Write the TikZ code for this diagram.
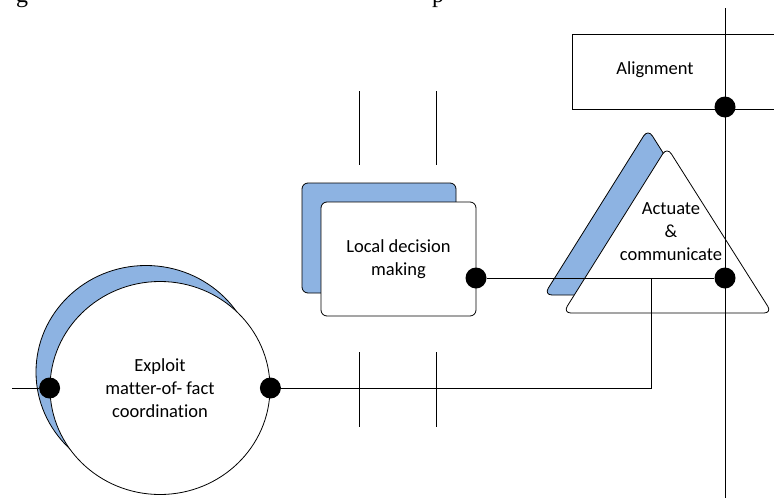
\documentclass[tikz,border=0pt]{standalone}
\usepackage{fontspec}
\setmainfont{Carlito}[Ligatures=CommonOff]
\newfontfamily\captionserif{Liberation Serif}
\usetikzlibrary{shapes.geometric}
\definecolor{shadowblue}{RGB}{141,179,226}

\begin{document}
\begin{tikzpicture}[x=1pt, y=-1pt]
    \useasboundingbox (0,0) rectangle (774,498);

    % Estilo para las sombras azules
    \tikzstyle{shadow_style} = [draw=black, fill=shadowblue, line width=0.8pt]

    % Estilo para las figuras blancas
    \tikzstyle{front_style} = [draw=black, fill=white, line width=0.8pt]

    % Estilo para los puntos de conexion
    \tikzstyle{dot_style} = [circle, fill=black, inner sep=0pt, minimum size=21pt]

    % Estilo para las lineas
    \tikzstyle{edge_style} = [-, line width=1pt, draw=black]

    % Estilo para los textos
    \tikzstyle{text_style} = [align=center, font=\fontsize{18.5}{23}\selectfont]

    % Restos del titulo cortado arriba
    \node[anchor=base west, inner sep=0pt, font=\captionserif\fontsize{24}{24}\selectfont] (cap_g) at (16,2) {g};
    \node[anchor=base west, inner sep=0pt, font=\captionserif\fontsize{24}{24}\selectfont] (cap_p) at (432,2) {p};

    % Circulo con su sombra
    \node[shadow_style, ellipse, minimum width=220pt, minimum height=213pt] (exploit_back) at (146,372) {};
    \node[front_style, ellipse, minimum width=220pt, minimum height=213pt, text_style] (exploit) at (160,388) {Exploit\\matter-of- fact\\coordination};

    % Rectangulo con su sombra
    \node[shadow_style, rectangle, rounded corners=6pt, minimum width=154pt, minimum height=110pt] (local_back) at (379,238) {};
    \node[front_style, rectangle, rounded corners=6pt, minimum width=155pt, minimum height=114pt, text_style] (local) at (398.5,259) {Local decision\\making};

    % Triangulo con su sombra
    \draw[shadow_style, rounded corners=8pt] (648,129) -- (753,295) -- (544,295) -- cycle;
    \draw[front_style, rounded corners=8pt] (667,147) -- (772,313) -- (563,313) -- cycle;
    \node[text_style] (actuate) at (671,232) {Actuate\\\&\\communicate};

    % Caja abierta a la derecha
    \draw[front_style] (572,34) rectangle (800,109);
    \node[text_style] (align) at (655,70) {Alignment};

    % Puntos de conexion
    \node[dot_style] (d_left) at (exploit.west) {};
    \node[dot_style] (d_right) at (exploit.east) {};
    \node[dot_style] (d_local) at (476,278) {};
    \node[dot_style] (d_act) at (725,278) {};
    \node[dot_style] (d_align) at (725,107) {};

    % Extremos libres de las lineas
    \coordinate (left_end) at (12,388);
    \coordinate (joint) at (651,278);
    \coordinate (top_end) at (725,8);
    \coordinate (bottom_end) at (725,498);

    % Conexiones
    \draw[edge_style] (left_end) -- (d_left);
    \draw[edge_style] (d_local) -- (d_act);
    \draw[edge_style] (d_right) -| (joint);
    \draw[edge_style] (top_end) -- (bottom_end);

    % Marcas verticales cortas
    \foreach \x in {359,436} {
        \draw[edge_style] (\x,91) -- (\x,165);
        \draw[edge_style] (\x,352) -- (\x,427);
    }
\end{tikzpicture}
\end{document}
